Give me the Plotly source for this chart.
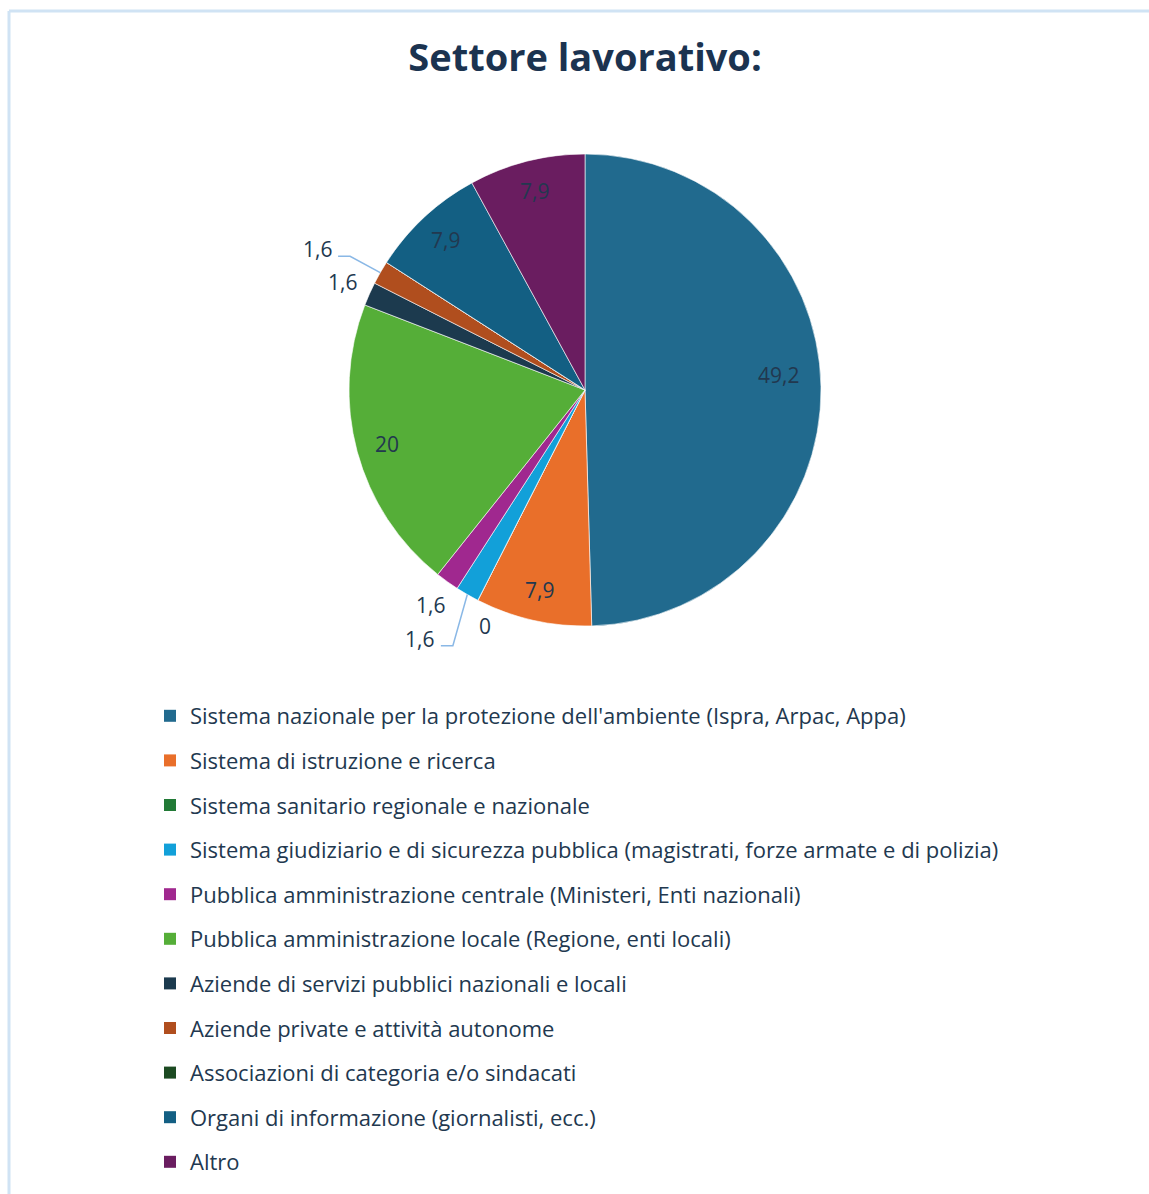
import math
import plotly.graph_objects as go

# ---- data -------------------------------------------------------------
categories = [
    "Sistema nazionale per la protezione dell'ambiente (Ispra, Arpac, Appa)",
    "Sistema di istruzione e ricerca",
    "Sistema sanitario regionale e nazionale",
    "Sistema giudiziario e di sicurezza pubblica (magistrati, forze armate e di polizia)",
    "Pubblica amministrazione centrale (Ministeri, Enti nazionali)",
    "Pubblica amministrazione locale (Regione, enti locali)",
    "Aziende di servizi pubblici nazionali e locali",
    "Aziende private e attività autonome",
    "Associazioni di categoria e/o sindacati",
    "Organi di informazione (giornalisti, ecc.)",
    "Altro",
]
values = [49.2, 7.9, 0, 1.6, 1.6, 20, 1.6, 1.6, 0, 7.9, 7.9]
show_value = [True, True, True, True, True, True, True, True, False, True, True]

# ---- styling ----------------------------------------------------------
colors = [
    "#216a8e", "#e96f2a", "#217a36", "#12a0d9", "#a0288f", "#55ae38",
    "#1c3a4e", "#b04e1e", "#1c4a22", "#135f83", "#6a1d60",
]
inside = [True, True, False, False, False, True, False, False, False, True, True]
# pixel nudges for labels that are moved off their default spot
label_nudge = {0: (-12, -12), 2: (20, 0), 3: (-33, 19), 7: (-38, -9)}
leader_lines = {3, 7}

W, H = 1149, 1194
CX, CY, R = 585, 390, 236
TEXT = "#22384f"
FONT = "Open Sans"


def fmt(v):
    if float(v).is_integer():
        return str(int(v))
    return f"{v:.1f}".replace(".", ",")


def to_paper(px, py):
    return px / W, 1 - py / H


fig = go.Figure()

fig.add_trace(go.Pie(
    labels=categories,
    values=values,
    sort=False,
    direction="clockwise",
    rotation=0,
    marker=dict(colors=colors, line=dict(color="rgba(255,255,255,0.6)", width=1)),
    textinfo="none",
    hoverinfo="label+value",
    showlegend=False,
    domain=dict(x=[(CX - R) / W, (CX + R) / W], y=[(H - CY - R) / H, (H - CY + R) / H]),
))

# value labels placed at each slice's mid-angle
total = sum(values)
cum = 0.0
shapes = []
annotations = []
for i, v in enumerate(values):
    t = math.radians(360 * (cum + v / 2) / total)
    cum += v
    if not show_value[i]:
        continue
    r = 0.87 * R if inside[i] else R + 29
    lx = CX + r * math.sin(t)
    ly = CY - r * math.cos(t)
    dx, dy = label_nudge.get(i, (0, 0))
    lx += dx
    ly += dy
    x, y = to_paper(lx, ly)
    annotations.append(dict(
        x=x, y=y, xref="paper", yref="paper", text=fmt(v), showarrow=False,
        xanchor="center", yanchor="middle", font=dict(family=FONT, size=21, color=TEXT),
    ))
    if i in leader_lines:
        ex = CX + R * math.sin(t)
        ey = CY - R * math.cos(t)
        pts = [(lx + 21, ly + 7), (lx + 33, ly + 7), (ex, ey)]
        path = "M " + " L ".join(f"{px / W:.5f},{1 - py / H:.5f}" for px, py in pts)
        shapes.append(dict(type="path", xref="paper", yref="paper", path=path,
                           line=dict(color="#8ab8e6", width=1.5)))

# legend entries, one group per category so the rows can be spaced out
for name, col in zip(categories, colors):
    fig.add_trace(go.Scatter(
        x=[None], y=[None], mode="markers", name=name, legendgroup=name,
        marker=dict(symbol="square", size=12, color=col),
        hoverinfo="skip",
    ))

# chart frame (top and left edges)
shapes.append(dict(type="line", xref="paper", yref="paper", x0=9 / W, x1=1.0,
                   y0=1 - 11 / H, y1=1 - 11 / H, line=dict(color="#d0e3f4", width=3)))
shapes.append(dict(type="line", xref="paper", yref="paper", x0=9 / W, x1=9 / W,
                   y0=1 - 11 / H, y1=0, line=dict(color="#d0e3f4", width=3)))

fig.update_layout(
    width=W, height=H,
    margin=dict(l=0, r=0, t=0, b=0, pad=0),
    paper_bgcolor="white", plot_bgcolor="white",
    title=dict(text="<b>Settore lavorativo:</b>", x=CX / W, xanchor="center",
               y=1 - 58 / H, yanchor="middle", yref="container",
               font=dict(family=FONT, size=38, color="#1b3350")),
    xaxis=dict(visible=False), yaxis=dict(visible=False),
    legend=dict(x=150 / W, y=1 - 695 / H, xanchor="left", yanchor="top",
                orientation="v", tracegroupgap=13,
                font=dict(family=FONT, size=22, color=TEXT),
                bgcolor="rgba(0,0,0,0)"),
    shapes=shapes,
    annotations=annotations,
)

fig.write_html("out.html")
